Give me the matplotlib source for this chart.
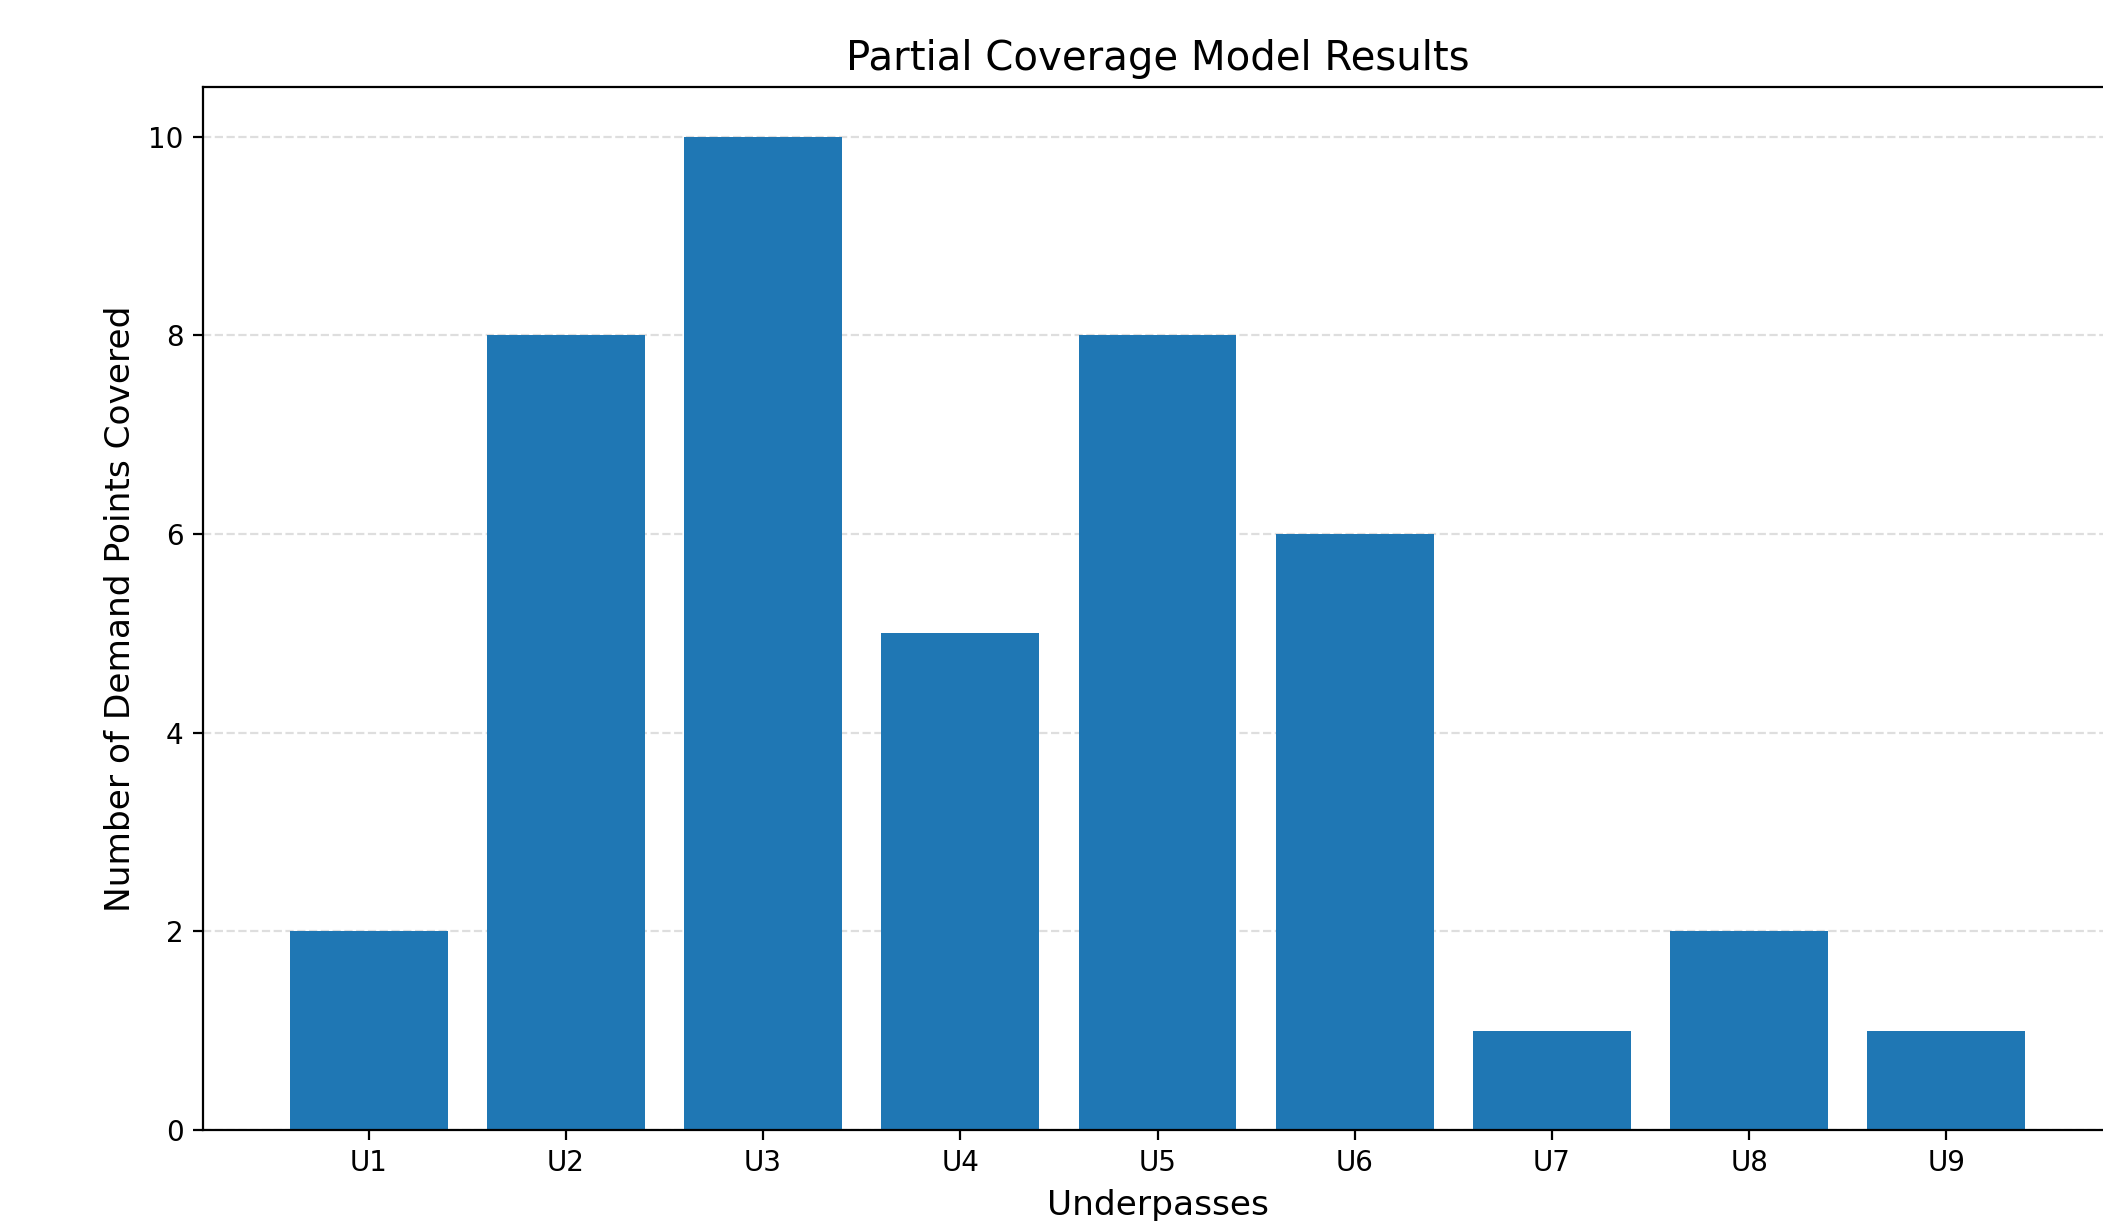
import numpy as np
import matplotlib
matplotlib.use('Agg')
import matplotlib.pyplot as plt

# data
underpasses = ['U1', 'U2', 'U3', 'U4', 'U5', 'U6', 'U7', 'U8', 'U9']
demand_covered = [2, 8, 10, 5, 8, 6, 1, 2, 1]

dpi = 200
fig = plt.figure(figsize=(2103 / dpi, 1221 / dpi), dpi=dpi)
# the reference is cropped on the right, so the axes run past the figure edge
ax = fig.add_axes([203 / 2103, 91 / 1221, 1909 / 2103, 1043 / 1221])

ax.bar(underpasses, demand_covered, color='#1f77b4')
ax.set_title('Partial Coverage Model Results', fontsize=14.5)
ax.set_xlabel('Underpasses', fontsize=12.4)
ax.set_ylabel('Number of Demand Points Covered', fontsize=12.4)
ax.grid(axis='y', linestyle='--', alpha=0.7, color='#d0d0d0')
ax.set_axisbelow(True)

fig.savefig('out.png', dpi=dpi)
